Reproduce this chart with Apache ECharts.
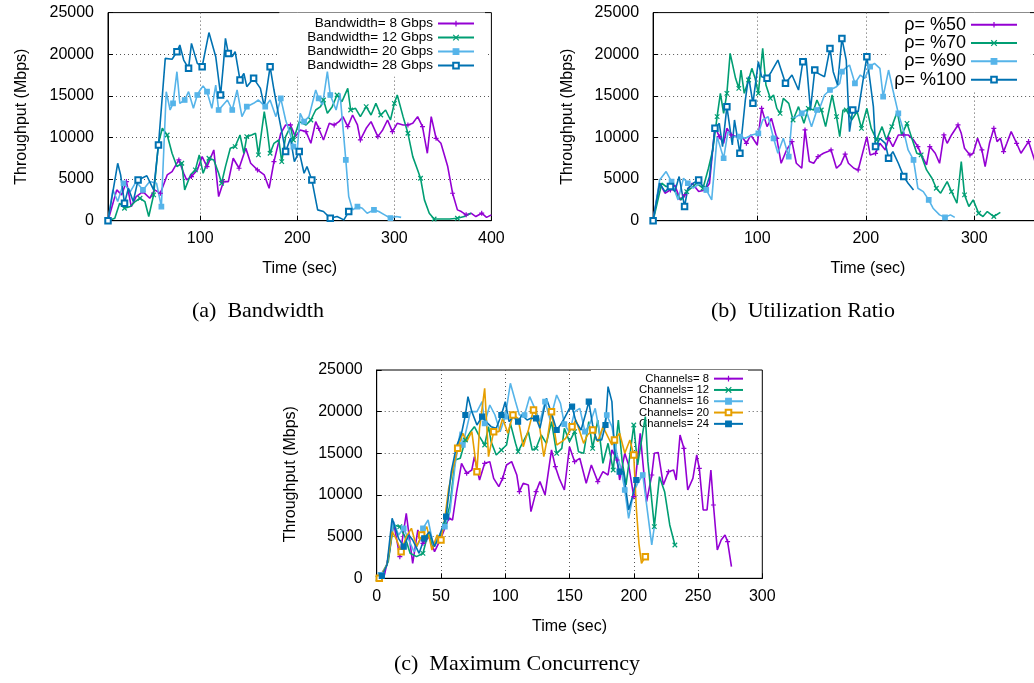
<!DOCTYPE html>
<html>
<head>
<meta charset="utf-8">
<script src="https://cdn.jsdelivr.net/npm/echarts@6/dist/echarts.min.js"></script>
<style>
html,body{margin:0;padding:0;background:#fff;}
#chart{width:1034px;height:683px;}
</style>
</head>
<body>
<div id="chart"></div>
<script>
// ---- (a) Bandwidth : [time (sec), throughput (Mbps)]
const bw8 = [[5,0],[14,3700],[19,3100],[24,4700],[29,1700],[34,2900],[41,3500],[48,2700],[53,3700],[59,3300],[66,5500],[71,5900],[78,7300],[83,5700],[86,4900],[91,5300],[97,6100],[102,7700],[107,6500],[114,8500],[119,2900],[124,4700],[129,4700],[134,7500],[140,6300],[147,8700],[152,6900],[159,6100],[166,5500],[171,3900],[176,7100],[183,10500],[188,11500],[193,11500],[198,10100],[203,10900],[209,10700],[214,9300],[219,11900],[222,11100],[227,9700],[233,11700],[238,11500],[243,11900],[247,12500],[252,11300],[257,12700],[262,11500],[265,9700],[271,11100],[276,11900],[283,10100],[288,10900],[293,12100],[298,10700],[303,11700],[309,11500],[314,11500],[319,11700],[324,12500],[329,11300],[334,8100],[338,12500],[343,9900],[348,9300],[355,6500],[360,3300],[365,1300],[369,1100],[374,700],[379,900],[384,500],[390,900],[395,400],[400,700]];
const bw12 = [[5,0],[12,300],[17,2100],[22,1500],[28,1700],[33,2300],[38,2700],[43,2300],[47,500],[52,3100],[57,9300],[61,11100],[66,10300],[71,8100],[76,6500],[81,6900],[84,3700],[90,5500],[95,6100],[99,7900],[103,5700],[109,7500],[114,7300],[119,5700],[122,4500],[126,6500],[131,8700],[136,8900],[141,10300],[145,8100],[148,10100],[153,10300],[157,10500],[160,7900],[166,13100],[169,10900],[172,8100],[176,9300],[181,9700],[184,7100],[188,10100],[193,11300],[196,9700],[202,11900],[209,11500],[214,12100],[219,13300],[224,13700],[227,14500],[231,12900],[236,13700],[241,15100],[246,14300],[252,15900],[255,13300],[260,13500],[265,12500],[271,13700],[276,12700],[281,14100],[286,12700],[291,13300],[296,12100],[300,14100],[303,15100],[309,12500],[314,10500],[319,7700],[324,6100],[327,5100],[331,2500],[336,900],[341,200],[348,200],[357,200],[365,300],[372,500],[379,900]];
const bw20 = [[5,0],[10,3700],[15,2300],[21,4500],[28,3500],[34,4700],[41,3700],[48,4700],[55,4500],[60,1700],[65,15500],[69,13300],[72,14100],[76,17900],[79,14100],[84,14500],[88,15500],[93,13500],[97,15100],[100,15700],[103,16200],[107,15500],[112,13500],[116,16300],[119,13300],[122,13700],[128,14500],[133,13300],[138,15700],[143,12500],[148,13700],[155,14100],[160,14500],[167,13700],[172,14500],[178,12500],[183,14700],[188,12100],[193,10300],[196,8900],[200,8500],[203,12900],[207,11900],[212,12500],[219,15700],[222,14700],[226,13900],[231,17900],[234,15100],[240,13300],[244,15300],[250,7300],[253,2900],[257,1300],[262,1700],[267,1500],[272,900],[279,1300],[284,1100],[290,700],[296,300],[302,500],[307,400]];
const bw28 = [[5,0],[15,6900],[18,5500],[22,2100],[26,3900],[31,2300],[36,4900],[45,5400],[52,3700],[57,9100],[64,19500],[71,19400],[76,20300],[79,21100],[83,19300],[88,18300],[91,21300],[97,18900],[102,18500],[109,22600],[116,19700],[121,15100],[124,18900],[126,21900],[129,20100],[133,19700],[136,20300],[141,16900],[145,17700],[148,16100],[155,17100],[162,15900],[166,13700],[172,18500],[176,15700],[181,12500],[188,8300],[193,9900],[197,7100],[202,8300],[207,5700],[210,6500],[215,4900],[221,1300],[227,1100],[234,300],[241,500],[248,100],[253,1100]];

// ---- (b) Utilization Ratio
const rho50 = [[4,0],[10,4500],[15,3300],[20,3700],[24,4300],[29,2500],[33,3100],[40,4500],[46,3500],[52,3700],[56,4500],[61,11300],[65,10100],[69,9300],[72,11100],[76,10300],[81,10100],[86,10100],[90,9300],[94,10300],[100,9100],[104,13500],[109,11300],[113,12300],[118,9900],[122,6900],[127,8500],[132,9500],[136,6900],[141,6300],[144,10900],[148,7100],[152,6900],[156,7700],[161,8100],[165,8300],[168,8500],[173,6300],[177,6800],[181,8000],[184,6900],[189,6300],[193,6100],[201,10100],[204,7900],[209,8100],[213,9300],[218,8500],[221,9900],[225,8900],[230,10300],[235,10300],[239,10300],[244,9700],[248,8900],[252,7700],[256,6700],[259,8900],[264,8100],[268,6900],[272,10300],[275,9300],[279,10300],[285,11500],[288,10500],[291,8700],[296,7900],[299,8100],[303,9900],[307,8500],[310,6500],[314,9300],[318,11100],[321,9500],[324,9900],[327,8300],[330,9300],[334,10700],[339,9300],[343,8100],[347,8900],[350,9500],[353,8300],[356,7100],[360,6000]];
const rho70 = [[4,0],[12,4500],[16,4100],[21,4300],[26,3100],[30,2500],[35,3500],[39,3900],[44,4500],[50,3900],[55,6300],[59,8500],[63,12500],[66,15300],[69,12900],[72,15300],[75,20100],[80,17100],[83,15900],[85,18100],[88,15300],[92,16900],[95,18300],[98,17100],[101,15300],[105,20700],[108,16300],[112,14700],[115,15100],[118,13500],[121,12900],[124,14700],[129,14100],[133,12100],[138,13700],[143,11700],[147,13500],[152,13300],[155,14500],[159,13300],[163,11300],[169,15100],[173,12500],[176,10100],[179,13300],[182,13300],[187,12100],[192,13100],[196,11100],[201,13500],[205,11100],[210,9700],[215,11300],[219,9700],[224,11300],[229,13100],[233,10300],[238,11700],[242,10100],[247,8100],[251,7900],[256,6100],[261,5100],[265,3900],[269,3300],[275,4700],[279,3500],[284,2100],[288,7100],[291,3100],[295,1700],[299,2500],[304,900],[308,500],[312,1100],[318,500],[324,1000]];
const rho90 = [[4,0],[10,4900],[16,5900],[21,4700],[27,2500],[32,5100],[36,4500],[41,3900],[47,4500],[53,3700],[58,2500],[63,10100],[69,7500],[73,10700],[78,10100],[84,10100],[89,9900],[95,10300],[101,10500],[105,12100],[110,12500],[115,9900],[119,8100],[124,9900],[129,7700],[132,12300],[136,12500],[141,12900],[145,13300],[150,11300],[155,13300],[158,13700],[162,15100],[167,15700],[173,16100],[176,16500],[178,17900],[181,18300],[185,18700],[190,16500],[195,17500],[199,17100],[204,18500],[208,18900],[213,18300],[216,14900],[221,18100],[225,15700],[230,12900],[235,10700],[239,8500],[244,7300],[248,3900],[253,3500],[258,2500],[262,1500],[268,700],[273,400],[278,700],[282,400]];
const rho100 = [[4,0],[10,4500],[15,3500],[20,4100],[24,3500],[28,5300],[33,1700],[36,3900],[41,4500],[46,4900],[52,3700],[56,5300],[61,11100],[65,11700],[68,8900],[72,13700],[77,9100],[79,12100],[84,8100],[89,14500],[92,17300],[96,14100],[101,19100],[104,17300],[109,17100],[113,17900],[119,19300],[126,16500],[132,17500],[138,15700],[142,19100],[145,19500],[149,13300],[153,18100],[156,17700],[162,17300],[167,20700],[170,17900],[174,16300],[178,21900],[182,19300],[185,10700],[188,13300],[193,13100],[198,17300],[201,19700],[204,16700],[207,13700],[209,8900],[213,9900],[218,9300],[221,7500],[225,8300],[230,6900],[235,5300],[239,4500],[244,3700]];

// ---- (c) Maximum Concurrency
const ch8 = [[3,0],[6,400],[10,3200],[13,6800],[18,2600],[23,7800],[28,1800],[32,5800],[36,4200],[41,5000],[45,3200],[50,4800],[56,7200],[59,7000],[62,10200],[66,13800],[70,12600],[74,13000],[76,14600],[80,11800],[84,13800],[88,14000],[91,12000],[95,11000],[98,12000],[101,13600],[105,14000],[109,12400],[111,10400],[114,11400],[118,11200],[120,8000],[124,10400],[127,11600],[131,10000],[136,15400],[139,13400],[142,12000],[146,10600],[150,15800],[154,14000],[158,14400],[163,11400],[167,13600],[172,11600],[176,12800],[180,12400],[183,15400],[187,14200],[189,11800],[193,15000],[196,13600],[200,9800],[205,17400],[208,12400],[210,9200],[214,12400],[216,15000],[219,15100],[223,11200],[227,12800],[231,13000],[233,11800],[236,17200],[239,15600],[242,10600],[246,12000],[249,14800],[251,13200],[254,8200],[257,8200],[260,13000],[262,8800],[265,3400],[268,4600],[271,5200],[273,4400],[276,1400]];
const ch12 = [[1,0],[5,800],[9,2000],[13,6400],[18,6200],[22,5000],[26,3000],[31,2600],[36,3000],[40,5400],[44,3800],[49,5000],[53,6400],[57,8800],[61,14200],[65,14400],[69,16600],[73,17600],[76,18200],[80,17000],[84,16000],[87,18200],[89,16400],[93,14800],[97,15400],[101,16000],[104,18600],[108,16200],[110,15200],[114,16400],[118,17600],[121,15400],[124,15600],[128,17200],[132,16200],[136,18800],[140,15000],[144,15600],[146,18000],[150,16400],[154,17600],[157,15200],[161,15000],[165,18800],[168,15600],[172,19000],[176,13800],[180,16200],[184,13000],[188,19000],[191,14000],[194,11200],[200,18400],[203,13600],[209,19400],[211,14000],[216,6200],[220,12200],[224,10400],[228,6400],[232,4000]];
const ch16 = [[3,400],[8,1600],[13,6800],[17,5200],[21,6000],[25,4600],[29,3200],[34,4600],[36,6000],[40,7000],[44,4000],[48,5000],[53,6200],[57,8000],[61,13600],[65,17600],[67,16000],[73,20000],[78,20000],[82,21200],[84,18600],[88,20800],[92,19600],[96,17600],[100,19400],[104,23400],[108,21200],[111,19600],[115,19600],[119,21800],[123,20400],[127,18800],[131,21200],[135,19000],[140,22000],[143,21000],[146,18500],[150,17500],[154,20000],[158,20400],[162,17600],[166,18600],[170,20400],[174,17000],[179,19600],[183,18200],[187,14800],[190,13200],[193,10600],[196,7200],[200,10400],[203,11400],[207,12400],[211,7600],[214,4000],[216,6200]];
const ch20 = [[2,0],[8,1600],[12,5600],[15,4800],[19,3200],[23,5000],[27,6000],[31,3800],[35,5200],[39,6200],[43,3400],[47,5200],[50,4600],[53,7200],[56,10800],[60,13600],[63,15600],[67,17400],[70,16400],[74,17600],[78,12800],[80,18000],[84,22800],[87,14600],[91,17600],[95,17600],[98,19200],[102,17400],[106,19600],[110,19200],[114,15800],[118,17800],[122,20200],[126,19000],[130,14600],[133,17000],[136,20000],[140,16000],[144,16400],[147,16800],[152,18200],[155,19000],[161,16200],[164,17200],[168,17800],[172,16400],[176,18200],[183,16000],[185,16600],[189,17400],[193,15000],[197,16600],[200,14800],[202,8400],[204,4200],[206,1800],[209,2600],[211,3000]];
const ch24 = [[4,300],[8,1600],[12,7200],[17,4800],[21,3800],[25,5200],[28,4600],[33,3000],[37,4800],[41,5600],[45,3800],[49,5200],[54,7400],[58,12800],[62,15800],[66,17400],[69,19600],[71,21800],[74,20000],[78,18400],[82,19400],[85,18800],[89,18200],[93,18000],[97,19600],[100,21200],[103,18800],[106,19400],[110,18800],[113,19600],[117,19000],[120,19200],[124,19200],[127,18000],[132,21600],[136,19800],[140,17800],[143,18400],[146,19200],[150,20400],[152,20600],[155,18800],[159,17800],[163,20000],[165,21200],[168,18400],[171,16600],[175,16600],[178,18400],[180,23000],[183,21200],[185,15200],[189,12800],[192,12800],[196,8200],[199,9800],[202,11800]];

const yTitle = 'Throughput (Mbps)';
const xTitle = 'Time (sec)';
const captions = ['(a)  Bandwidth', '(b)  Utilization Ratio', '(c)  Maximum Concurrency'];

const PURPLE = '#9400d3', GREEN = '#009e73', SKY = '#56b4e9', ORANGE = '#e69f00', BLUE = '#0072b2';
const PLUS = 'path://M0,5L10,5M5,0L5,10';
const CROSS = 'path://M0,0L10,10M0,10L10,0';

function line(name, pts, color, symbol, size, every, g) {
  return {
    type: 'line', name: name, xAxisIndex: g, yAxisIndex: g,
    data: pts.map((p, i) => (i % every === 0 ? p : { value: p, symbol: 'none' })),
    symbol: symbol, symbolSize: size, showAllSymbol: true,
    lineStyle: { color: color, width: 1.6 },
    itemStyle: { color: color, borderColor: color, borderWidth: 1.2 },
    emphasis: { disabled: true }, silent: true
  };
}

const font = 'Liberation Sans';
const plain = v => String(v);
function xAx(g, min, max, split) {
  return {
    type: 'value', gridIndex: g, min: min, max: max, splitNumber: split,
    name: xTitle, nameLocation: 'middle', nameGap: 40, nameMoveOverlap: false,
    nameTextStyle: { fontSize: 16, color: '#000', fontFamily: font },
    axisLine: { lineStyle: { color: '#000', width: 1 } },
    axisTick: { inside: true, length: 5, lineStyle: { color: '#000' } },
    axisLabel: { fontSize: 16, color: '#000', fontFamily: font, margin: 10, showMinLabel: min === 0, formatter: plain },
    splitLine: { show: true, showMinLine: false, showMaxLine: false, lineStyle: { color: '#555', type: [1, 3], width: 1 } }
  };
}
function yAx(g) {
  return {
    type: 'value', gridIndex: g, min: 0, max: 25000, interval: 5000,
    name: yTitle, nameLocation: 'middle', nameGap: 78, nameMoveOverlap: false,
    nameTextStyle: { fontSize: 16, color: '#000', fontFamily: font },
    axisLine: { show: true, lineStyle: { color: '#000', width: 1 } },
    axisTick: { show: true, inside: true, length: 5, lineStyle: { color: '#000' } },
    axisLabel: { fontSize: 16, color: '#000', fontFamily: font, margin: 14, formatter: plain },
    splitLine: { show: true, showMinLine: false, showMaxLine: false, lineStyle: { color: '#555', type: [1, 3], width: 1 } }
  };
}
function leg(names, fs, lh, iw, right, top, pad) {
  return {
    data: names, orient: 'vertical', align: 'right', right: right, top: top,
    padding: pad, itemGap: 0, itemWidth: iw, itemHeight: 7,
    backgroundColor: '#fff', z: 1, selectedMode: false,
    itemStyle: { borderWidth: 1.2 },
    textStyle: { fontSize: fs, lineHeight: lh, color: '#000', fontFamily: font }
  };
}

const chart = echarts.init(document.getElementById('chart'), null, { renderer: 'canvas' });
chart.setOption({
  animation: false,
  backgroundColor: '#fff',
  grid: [
    { left: 108, top: 12.6, width: 383.4, height: 208.1, show: true, borderColor: '#000', borderWidth: 1, outerBoundsMode: 'none' },
    { left: 653.1, top: 12.6, width: 429.7, height: 208.1, show: true, borderColor: '#000', borderWidth: 1, outerBoundsMode: 'none' },
    { left: 376.7, top: 370, width: 385.6, height: 208.3, show: true, borderColor: '#000', borderWidth: 1, outerBoundsMode: 'none' }
  ],
  xAxis: [xAx(0, 5, 400, 4), xAx(1, 4, 400, 4), Object.assign(xAx(2, 0, 300, 6), { interval: 50 })],
  yAxis: [yAx(0), yAx(1), yAx(2)],
  legend: [
    leg(['Bandwidth= 8 Gbps', 'Bandwidth= 12 Gbps', 'Bandwidth= 20 Gbps', 'Bandwidth= 28 Gbps'], 13.5, 13.3, 36, 549, 12.6, [4, 10, 4, 28]),
    leg(['ρ= %50', 'ρ= %70', 'ρ= %90', 'ρ= %100'], 18, 18.3, 46, 4, 12.6, [3, 12, 3, 5]),
    leg(['Channels= 8', 'Channels= 12', 'Channels= 16', 'Channels= 20', 'Channels= 24'], 11.3, 11.3, 29, 286, 370, [3, 4, 3, 48])
  ],
  series: [
    line('Bandwidth= 8 Gbps', bw8, PURPLE, PLUS, 5, 3, 0),
    line('Bandwidth= 12 Gbps', bw12, GREEN, CROSS, 4.5, 3, 0),
    line('Bandwidth= 20 Gbps', bw20, SKY, 'rect', 4.5, 3, 0),
    line('Bandwidth= 28 Gbps', bw28, BLUE, 'emptyRect', 5.5, 3, 0),
    line('ρ= %50', rho50, PURPLE, PLUS, 5, 3, 1),
    line('ρ= %70', rho70, GREEN, CROSS, 4.5, 3, 1),
    line('ρ= %90', rho90, SKY, 'rect', 4.5, 3, 1),
    line('ρ= %100', rho100, BLUE, 'emptyRect', 5.5, 3, 1),
    line('Channels= 8', ch8, PURPLE, PLUS, 5, 4, 2),
    line('Channels= 12', ch12, GREEN, CROSS, 4.5, 4, 2),
    line('Channels= 16', ch16, SKY, 'rect', 4.5, 4, 2),
    line('Channels= 20', ch20, ORANGE, 'emptyRect', 5.5, 4, 2),
    line('Channels= 24', ch24, BLUE, 'rect', 5, 4, 2)
  ],
  graphic: [
    { type: 'text', x: 258, y: 311, style: { text: captions[0], align: 'center', verticalAlign: 'middle', fontSize: 22, fontFamily: 'Liberation Serif', fill: '#000' } },
    { type: 'text', x: 803, y: 311, style: { text: captions[1], align: 'center', verticalAlign: 'middle', fontSize: 22, fontFamily: 'Liberation Serif', fill: '#000' } },
    { type: 'text', x: 517, y: 664, style: { text: captions[2], align: 'center', verticalAlign: 'middle', fontSize: 22, fontFamily: 'Liberation Serif', fill: '#000' } }
  ]
});
</script>
</body>
</html>
